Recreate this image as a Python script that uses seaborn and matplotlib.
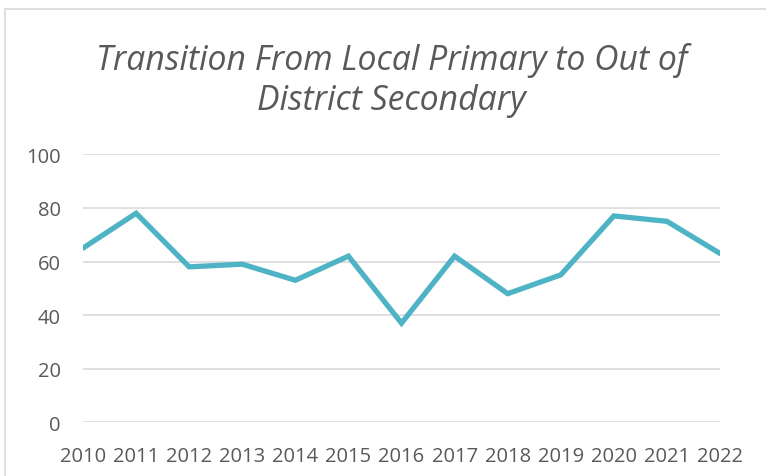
import matplotlib
matplotlib.use("Agg")
import matplotlib.pyplot as plt
import seaborn as sns
import pandas as pd
from matplotlib.patches import Rectangle

years = [2010, 2011, 2012, 2013, 2014, 2015, 2016, 2017, 2018, 2019, 2020, 2021, 2022]
values = [65, 78, 58, 59, 53, 62, 37, 62, 48, 55, 77, 75, 63]
yticks = [0, 20, 40, 60, 80, 100]
title_lines = ["Transition From Local Primary to Out of", "District Secondary"]

sns.set_theme(style="white")
plt.rcParams['font.family'] = ['Open Sans', 'DejaVu Sans']

W, H = 766, 477
fig = plt.figure(figsize=(W / 100, H / 100), dpi=100)
fig.patch.set_facecolor("white")

# outer chart border
fig.patches.append(Rectangle((5 / W, -0.05), 1.2, (H - 10) / H + 0.05, transform=fig.transFigure,
                             fill=False, edgecolor="#d9d9d9", linewidth=1.2))

ax = fig.add_axes([83 / W, 1 - 423.3 / H, (720 - 83) / W, (423.3 - 155.3) / H])
df = pd.DataFrame({"year": years, "value": values})
sns.lineplot(data=df, x="year", y="value", ax=ax, color="#4DB3C5", linewidth=3.8,
             solid_capstyle="round", solid_joinstyle="miter")

ax.set_xlim(years[0], years[-1])
ax.set_ylim(0, 100)
ax.set_yticks(yticks)
ax.set_xticks(years)
ax.set_xticklabels([str(y) for y in years])
ax.set_xlabel("")
ax.set_ylabel("")
ax.grid(axis="y", color="#d9d9d9", linewidth=1.2)
ax.set_axisbelow(True)
for s in ax.spines.values():
    s.set_visible(False)
ax.tick_params(axis="both", length=0, labelsize=14.5, labelcolor="#595959")
ax.tick_params(axis="y", pad=16)
ax.tick_params(axis="x", pad=17)
for lbl in ax.get_xticklabels() + ax.get_yticklabels():
    lbl.set_fontfamily(['Open Sans', 'DejaVu Sans'])

fig.text(392 / W, 1 - 70 / H, title_lines[0], ha="center", va="baseline", fontsize=24.3,
         style="italic", color="#595959", fontweight="normal")
fig.text(391 / W, 1 - 110 / H, title_lines[1], ha="center", va="baseline", fontsize=24.3,
         style="italic", color="#595959", fontweight="normal")

fig.savefig("out.png", dpi=100, facecolor="white")
